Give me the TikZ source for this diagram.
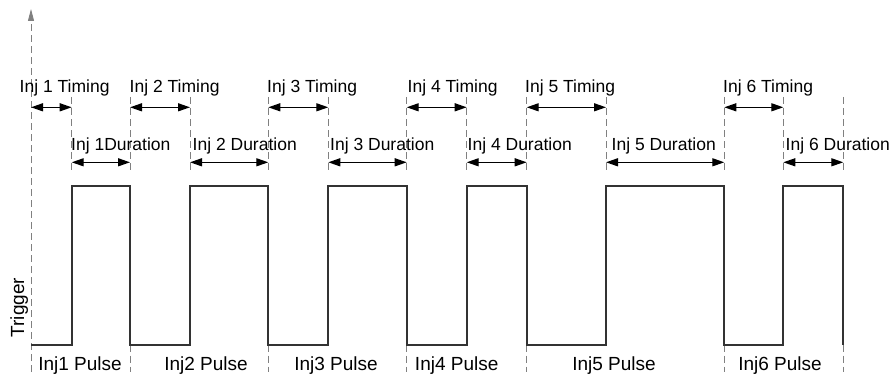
\documentclass[tikz,border=0pt]{standalone}
\usepackage{fontspec}
\setmainfont{Liberation Sans}
\usetikzlibrary{arrows.meta, positioning, calc}

\begin{document}
\begin{tikzpicture}[x=1pt, y=-1pt,
    guide/.style={black!50, line width=0.9pt, dash pattern=on 7pt off 4pt},
    dimarrow/.style={{Triangle[length=12pt, width=8pt]}-{Triangle[length=12pt, width=8pt]}, line width=1.3pt},
    pulse/.style={black!80, line width=1.8pt},
    toplabel/.style={font=\fontsize{17.5}{20}\selectfont, inner sep=0pt, anchor=base west},
    botlabel/.style={font=\fontsize{19}{22}\selectfont, inner sep=0pt, anchor=base}]
  \useasboundingbox (0,0) rectangle (893,377);

  % edges of the trigger signal
  \foreach \n/\x in {0/31, 1/71.7, 2/130, 3/190, 4/268.3, 5/328.3, 6/406.7, 7/466.7, 8/526.7, 9/606, 10/724.3, 11/783.3, 12/843.3}
    \coordinate (e\n) at (\x, 0);
  \coordinate (hi) at (0, 186);
  \coordinate (lo) at (0, 344.7);
  \coordinate (tim) at (0, 107.3);
  \coordinate (dur) at (0, 162.3);
  \coordinate (gtop) at (0, 97);
  \coordinate (gbot) at (0, 172);
  \coordinate (sep) at (0, 372);
  \coordinate (axtop) at (31, 9);

  % Axis
  \draw[guide, -{Triangle[length=12pt, width=6pt]}] (e0 |- sep) -- (axtop);
  \node[botlabel, rotate=90] (trig) at (24, 307.5) {Trigger};

  % Guide lines
  \foreach \n in {1,...,12}
    \draw[guide] (e\n |- gtop) -- (e\n |- gbot);
  \foreach \n in {2,4,6,8,10,12}
    \draw[guide] (e\n |- lo) -- (e\n |- sep);

  % Trigger pulses
  \draw[pulse] (e0 |- lo)
    \foreach \a/\b in {1/2, 3/4, 5/6, 7/8, 9/10, 11/12} {
      -- (e\a |- lo) -- (e\a |- hi) -- (e\b |- hi) -- (e\b |- lo)
    };

  % Timing
  \foreach \i/\a/\b/\lx in {1/0/1/19.5, 2/2/3/129.5, 3/4/5/267, 4/6/7/407.5, 5/8/9/525, 6/10/11/723} {
    \draw[dimarrow] (e\a |- tim) -- (e\b |- tim);
    \node[toplabel] (tim\i) at (\lx, 92.7) {Inj \i\ Timing};
  }

  % Duration
  \foreach \i/\a/\b/\lx/\txt in {1/1/2/71/Inj 1Duration, 2/3/4/192.5/Inj 2 Duration, 3/5/6/330/Inj 3 Duration, 4/7/8/467.5/Inj 4 Duration, 5/9/10/611.5/Inj 5 Duration, 6/11/12/785.5/Inj 6 Duration} {
    \draw[dimarrow] (e\a |- dur) -- (e\b |- dur);
    \node[toplabel] (dur\i) at (\lx, 150.7) {\txt};
  }

  % Pulse labels
  \foreach \i/\cx in {1/80, 2/206, 3/336, 4/456.7, 5/614, 6/780}
    \node[botlabel] (pls\i) at (\cx, 370) {Inj\i\ Pulse};
\end{tikzpicture}
\end{document}
